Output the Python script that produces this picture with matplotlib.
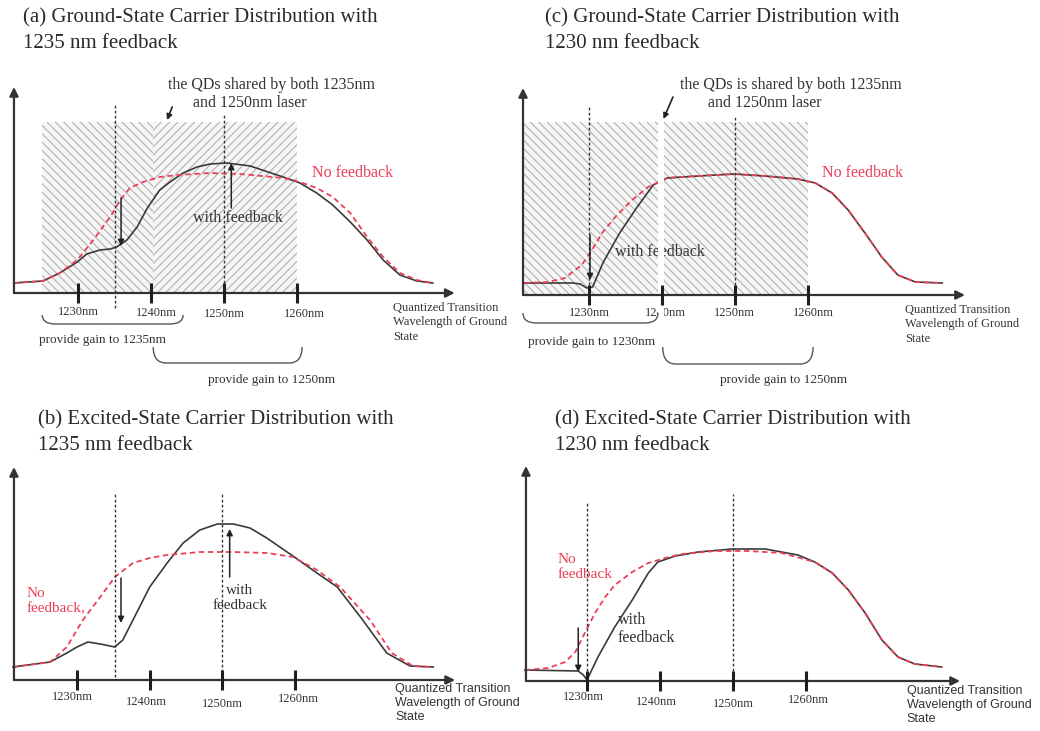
import matplotlib.pyplot as plt
from matplotlib.path import Path
from matplotlib.patches import PathPatch, Rectangle

plt.rcParams['font.family'] = ['Liberation Serif', 'DejaVu Serif']
plt.rcParams['hatch.linewidth'] = 0.8

W, H = 1040, 731
INK = '#333333'
RED = '#ec3f57'

TICKS = [1230, 1240, 1250, 1260]
TICK_LABELS = ['1230nm', '1240nm', '1250nm', '1260nm']
X_LABEL = 'Quantized Transition\nWavelength of Ground\nState'

# carrier population (a.u.) against transition wavelength (nm)
# (a) ground state, 1235 nm feedback
a_nofb_nm = [1221.2, 1225.2, 1227.5, 1229.9, 1232.1, 1234.4, 1235.8, 1237.1, 1238.9, 1241.2, 1243.6, 1248.1,
             1252.2, 1258.1, 1260.4, 1262.7, 1264.9, 1267.3, 1269.6, 1271.8, 1274.1, 1276.4, 1278.6]
a_nofb = [0.10, 0.12, 0.20, 0.33, 0.53, 0.76, 0.93, 1.05, 1.11, 1.16, 1.18, 1.20,
          1.19, 1.15, 1.11, 1.05, 0.96, 0.80, 0.56, 0.36, 0.20, 0.13, 0.10]
a_fb_nm = [1221.2, 1225.2, 1227.5, 1229.9, 1231.2, 1233.0, 1234.4, 1235.3, 1236.7, 1238.1, 1239.5, 1241.2,
           1242.6, 1244.4, 1246.3, 1248.1, 1250.4, 1253.6, 1258.1, 1260.4, 1262.7, 1264.9, 1267.3, 1269.6,
           1271.8, 1274.1, 1276.4, 1278.6]
a_fb = [0.10, 0.12, 0.20, 0.31, 0.39, 0.43, 0.44, 0.46, 0.53, 0.66, 0.85, 1.03,
        1.11, 1.20, 1.26, 1.29, 1.30, 1.27, 1.16, 1.10, 1.00, 0.88, 0.71, 0.53,
        0.33, 0.18, 0.12, 0.10]

# (b) excited state, 1235 nm feedback
b_nofb_nm = [1221.2, 1226.3, 1228.6, 1230.8, 1233.2, 1235.2, 1237.7, 1240.0, 1242.4, 1246.9, 1251.5, 1256.1,
             1259.7, 1263.0, 1266.2, 1270.3, 1273.3, 1276.2, 1279.0]
b_nofb = [0.13, 0.18, 0.33, 0.60, 0.83, 1.03, 1.17, 1.22, 1.25, 1.28, 1.28, 1.27,
          1.23, 1.10, 0.93, 0.60, 0.27, 0.14, 0.13]
b_fb_nm = [1221.2, 1226.3, 1228.6, 1230.0, 1231.5, 1233.2, 1235.2, 1236.3, 1237.7, 1240.0, 1242.4, 1244.6,
           1246.9, 1249.3, 1251.5, 1253.8, 1256.1, 1259.7, 1263.0, 1265.8, 1269.3, 1272.6, 1275.8, 1279.0]
b_fb = [0.13, 0.18, 0.27, 0.33, 0.38, 0.36, 0.33, 0.40, 0.60, 0.93, 1.17, 1.37,
        1.50, 1.56, 1.56, 1.52, 1.42, 1.24, 1.07, 0.93, 0.60, 0.27, 0.14, 0.13]

# (c) ground state, 1230 nm feedback
c_nofb_nm = [1221.2, 1224.4, 1226.7, 1229.0, 1230.4, 1231.8, 1233.6, 1235.9, 1238.1, 1240.7, 1242.7, 1247.3,
             1250.0, 1254.1, 1258.6, 1261.0, 1263.3, 1265.5, 1267.8, 1270.1, 1272.3, 1274.7, 1278.4]
c_nofb = [0.12, 0.13, 0.17, 0.30, 0.45, 0.62, 0.78, 0.95, 1.08, 1.17, 1.18, 1.20,
          1.21, 1.19, 1.16, 1.12, 1.02, 0.85, 0.62, 0.38, 0.20, 0.13, 0.12]
c_fb_nm = [1221.2, 1227.8, 1228.8, 1229.7, 1230.5, 1231.9, 1234.2, 1236.6, 1238.8, 1240.7, 1242.7, 1247.3,
           1250.0, 1254.1, 1258.6, 1261.0, 1263.3, 1265.5, 1267.8, 1270.1, 1272.3, 1274.7, 1278.4]
c_fb = [0.12, 0.12, 0.11, 0.07, 0.08, 0.32, 0.62, 0.88, 1.10, 1.17, 1.18, 1.20,
        1.21, 1.19, 1.16, 1.12, 1.02, 0.85, 0.62, 0.38, 0.20, 0.13, 0.12]

# (d) excited state, 1230 nm feedback
d_nofb_nm = [1221.5, 1224.7, 1227.0, 1228.4, 1229.7, 1231.1, 1232.5, 1233.8, 1236.2, 1238.4, 1240.7, 1243.0,
             1247.5, 1252.1, 1256.7, 1261.2, 1263.6, 1265.8, 1268.1, 1270.4, 1272.6, 1274.9, 1278.6]
d_nofb = [0.11, 0.13, 0.19, 0.29, 0.48, 0.68, 0.84, 0.96, 1.09, 1.18, 1.23, 1.27,
          1.30, 1.30, 1.28, 1.19, 1.08, 0.91, 0.68, 0.41, 0.24, 0.17, 0.14]
d_fb_nm = [1221.5, 1228.8, 1229.5, 1230.0, 1231.5, 1233.8, 1236.2, 1238.4, 1239.7, 1242.1, 1245.2, 1249.9,
           1254.4, 1258.9, 1261.2, 1263.6, 1265.8, 1268.1, 1270.4, 1272.6, 1274.9, 1278.6]
d_fb = [0.11, 0.10, 0.06, 0.01, 0.24, 0.54, 0.81, 1.08, 1.19, 1.25, 1.29, 1.32,
        1.32, 1.26, 1.19, 1.08, 0.91, 0.68, 0.41, 0.24, 0.17, 0.14]

fig = plt.figure(figsize=(W / 100, H / 100), dpi=100)


def panel(box, x0, y0, s):
    # box in pixels (left, top, right, bottom); x0 = column of 1230 nm, y0 = row of the x axis
    l, t, r, b = box
    ax = fig.add_axes([l / W, 1 - b / H, (r - l) / W, (b - t) / H])
    ax.set_xlim(1230 + (l - x0) / s, 1230 + (r - x0) / s)
    ax.set_ylim((y0 - b) / 100, (y0 - t) / 100)
    ax.axis('off')
    return ax


def arrow(ax, start, end, lw=1.1, ms=9, color='#222222', z=6):
    ax.annotate('', xy=end, xytext=start, zorder=z,
                arrowprops=dict(arrowstyle='-|>', color=color, lw=lw,
                                mutation_scale=ms, shrinkA=0, shrinkB=0))


def frame(ax, x_start, x_end, y_top, label_pos, label_xy, label_font):
    arrow(ax, (x_start, 0), (x_end, 0), lw=1.6, ms=13, color=INK)
    arrow(ax, (x_start, 0), (x_start, y_top), lw=1.6, ms=13, color=INK)
    ax.vlines(TICKS, -0.1, 0.1, color='#1e1e1e', lw=2.2, zorder=6)
    for (x, y), s in zip(label_pos, TICK_LABELS):
        ax.text(x, y, s, ha='center', va='center', fontsize=9, color=INK)
    ax.text(label_xy[0], label_xy[1], X_LABEL, ha='left', va='top', fontsize=9,
            color=INK, linespacing=1.25, family=label_font)


def curves(ax, nofb_nm, nofb, fb_nm, fb):
    ax.plot(fb_nm, fb, color='#3a3a3a', lw=1.2, zorder=4)
    ax.plot(nofb_nm, nofb, color=RED, lw=1.3, ls=(0, (3, 2)), zorder=4.5)


def vdash(ax, x, y0, y1):
    ax.plot([x, x], [y0, y1], color=INK, lw=1.0, ls=(0, (2, 1.6)), zorder=5)


def hatch_box(ax, x0, x1, top, pattern):
    ax.add_patch(Rectangle((x0, 0), x1 - x0, top, facecolor='#f6f6f6', edgecolor='#b2b2b2',
                           lw=0, hatch=pattern, zorder=1))


def brace(ax, x0, x1, top, bottom, r=1.8):
    verts = [(x0, top), (x0, bottom), (x0 + r, bottom), (x1 - r, bottom),
             (x1, bottom), (x1, top)]
    codes = [Path.MOVETO, Path.CURVE3, Path.CURVE3, Path.LINETO, Path.CURVE3, Path.CURVE3]
    ax.add_patch(PathPatch(Path(verts, codes), fill=False, ec='#555555', lw=1.0, zorder=6))


def title(x, y1, y2, line1, line2):
    for y, s in ((y1, line1), (y2, line2)):
        fig.text(x / W, 1 - y / H, s, ha='left', va='center', fontsize=15, color='#2a2a2a')


BACK = '\\' * 4
FWD = '/' * 4

# ---- (a)
ax = panel((0, 60, 520, 395), 78, 293, 7.3)
hatch_box(ax, 1225.1, 1244.7, 1.71, BACK)
hatch_box(ax, 1240.3, 1260.0, 1.71, FWD)
curves(ax, a_nofb_nm, a_nofb, a_fb_nm, a_fb)
vdash(ax, 1235, -0.15, 1.88)
vdash(ax, 1250, 0, 1.78)
frame(ax, 1221.23, 1281.6, 2.06,
      [(1230.1, -0.19), (1240.7, -0.20), (1250.1, -0.21), (1261.0, -0.21)],
      (1273.15, -0.09), 'Liberation Serif')
arrow(ax, (1235.9, 0.95), (1235.9, 0.47))
arrow(ax, (1251.0, 0.85), (1251.0, 1.30))
ax.text(1251.9, 0.75, 'with feedback', ha='center', va='center', fontsize=11.5, color=INK)
ax.text(1262.05, 1.20, 'No feedback', ha='left', va='center', fontsize=11.5, color=RED)
ax.text(1242.3, 2.08, 'the QDs shared by both 1235nm', ha='left', va='center', fontsize=11.5, color=INK)
ax.text(1245.75, 1.90, 'and 1250nm laser', ha='left', va='center', fontsize=11.5, color=INK)
arrow(ax, (1242.9, 1.86), (1242.2, 1.73), lw=1.2, ms=8)
brace(ax, 1225.1, 1244.4, -0.22, -0.31)
ax.text(1224.7, -0.47, 'provide gain to 1235nm', ha='left', va='center', fontsize=9.5, color=INK)
brace(ax, 1240.3, 1260.7, -0.54, -0.70)
ax.text(1247.8, -0.87, 'provide gain to 1250nm', ha='left', va='center', fontsize=9.5, color=INK)
title(23, 18, 43, '(a) Ground-State Carrier Distribution with', '1235 nm feedback')

# ---- (b)
ax = panel((0, 395, 520, 731), 77, 680, 7.27)
curves(ax, b_nofb_nm, b_nofb, b_fb_nm, b_fb)
vdash(ax, 1235.2, 0.03, 1.87)
vdash(ax, 1250, -0.02, 1.87)
frame(ax, 1221.33, 1282.0, 2.13,
      [(1229.4, -0.17), (1239.6, -0.22), (1250.0, -0.24), (1260.4, -0.19)],
      (1273.74, -0.03), 'Liberation Sans')
arrow(ax, (1236.05, 1.02), (1236.05, 0.57))
arrow(ax, (1251.0, 1.03), (1251.0, 1.51))
ax.text(1252.4, 0.82, 'with\nfeedback', ha='center', va='center', fontsize=11, color=INK,
        linespacing=1.15)
ax.text(1223.1, 0.79, 'No\nfeedback,', ha='left', va='center', fontsize=11, color=RED,
        linespacing=1.15)
title(38, 420, 446, '(b) Excited-State Carrier Distribution with', '1235 nm feedback')

# ---- (c)
ax = panel((520, 60, 1040, 395), 589, 295, 7.3)
hatch_box(ax, 1220.96, 1239.6, 1.73, BACK)
hatch_box(ax, 1240.1, 1260.0, 1.73, BACK)
curves(ax, c_nofb_nm, c_nofb, c_fb_nm, c_fb)
vdash(ax, 1230, 0, 1.90)
vdash(ax, 1250, 0, 1.79)
frame(ax, 1220.96, 1281.5, 2.07,
      [(1230.0, -0.18), (1240.5, -0.18), (1249.9, -0.18), (1260.8, -0.18)],
      (1273.3, -0.09), 'Liberation Serif')
arrow(ax, (1230.14, 0.60), (1230.14, 0.15))
ax.text(1233.6, 0.43, 'with feedback', ha='left', va='center', fontsize=11.5, color=INK)
ax.text(1261.9, 1.22, 'No feedback', ha='left', va='center', fontsize=11.5, color=RED)
# pale strip where the two gain regions meet
ax.add_patch(Rectangle((1239.45, 0.015), 0.82, 1.9, facecolor='white', lw=0, zorder=5.5))
ax.add_patch(Rectangle((1239.45, -0.24), 0.82, 0.12, facecolor='white', lw=0, zorder=5.5))
ax.text(1242.5, 2.10, 'the QDs is shared by both 1235nm', ha='left', va='center', fontsize=11.5, color=INK)
ax.text(1246.3, 1.92, 'and 1250nm laser', ha='left', va='center', fontsize=11.5, color=INK)
arrow(ax, (1241.5, 1.98), (1240.2, 1.76), lw=1.2, ms=8)
brace(ax, 1220.96, 1239.45, -0.18, -0.28)
ax.text(1221.6, -0.47, 'provide gain to 1230nm', ha='left', va='center', fontsize=9.5, color=INK)
brace(ax, 1240.1, 1260.7, -0.52, -0.69)
ax.text(1247.9, -0.85, 'provide gain to 1250nm', ha='left', va='center', fontsize=9.5, color=INK)
title(545, 18, 43, '(c) Ground-State Carrier Distribution with', '1230 nm feedback')

# ---- (d)
ax = panel((520, 395, 1040, 731), 587, 681, 7.3)
curves(ax, d_nofb_nm, d_nofb, d_fb_nm, d_fb)
vdash(ax, 1230, 0, 1.79)
vdash(ax, 1250, 0, 1.87)
frame(ax, 1221.64, 1281.1, 2.15,
      [(1229.5, -0.16), (1239.5, -0.21), (1250.1, -0.23), (1260.3, -0.19)],
      (1273.8, -0.04), 'Liberation Sans')
arrow(ax, (1228.8, 0.53), (1228.8, 0.09))
ax.text(1226.0, 1.14, 'No\nfeedback', ha='left', va='center', fontsize=11, color=RED,
        linespacing=1.15)
ax.text(1234.2, 0.52, 'with\nfeedback', ha='left', va='center', fontsize=11.5, color=INK,
        linespacing=1.15)
title(555, 420, 446, '(d) Excited-State Carrier Distribution with', '1230 nm feedback')

fig.savefig('out.png', dpi=100)
